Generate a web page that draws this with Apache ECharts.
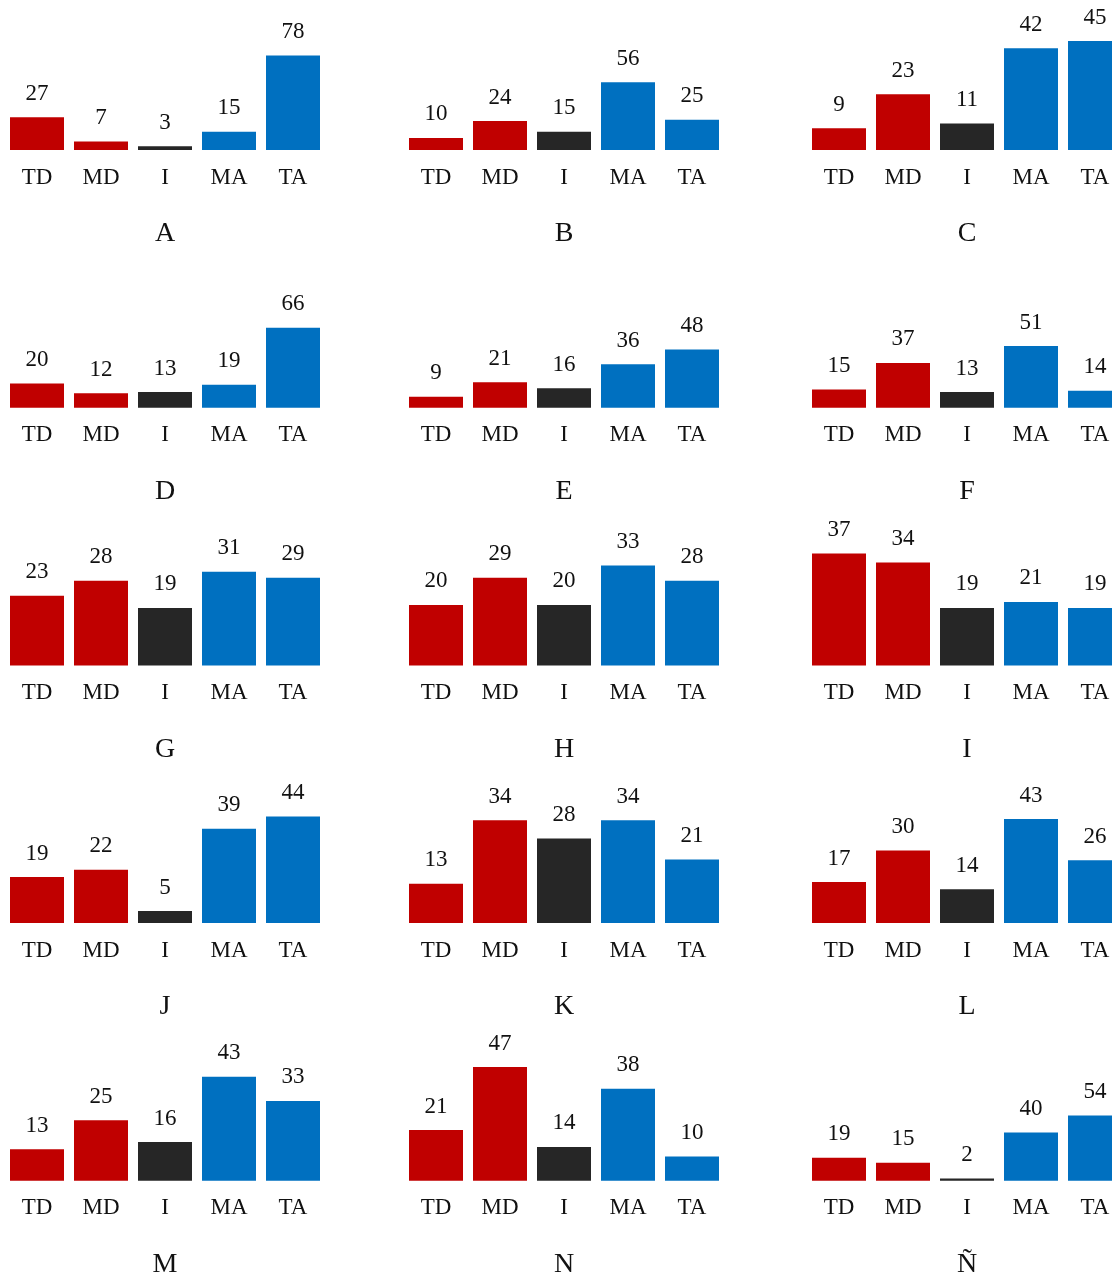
<!DOCTYPE html>
<html>
<head>
<meta charset="utf-8">
<title>TD / MD / I / MA / TA</title>
<script src="https://cdn.jsdelivr.net/npm/echarts@6/dist/echarts.min.js"></script>
<style>
  html, body { margin: 0; padding: 0; background: #ffffff; overflow: hidden; }
  /* the canvas runs a little past the right edge so the last column's TA bar is cut off */
  #chart { width: 1130px; height: 1273px; }
</style>
</head>
<body>
<div id="chart"></div>
<script>
// Response categories shared by every panel
const categories = ['TD', 'MD', 'I', 'MA', 'TA'];

// Panel letters, read row by row
const panelLetters = ['A', 'B', 'C', 'D', 'E', 'F', 'G', 'H', 'I', 'J', 'K', 'L', 'M', 'N', 'Ñ'];

// Counts per panel (TD, MD, I, MA, TA)
const panelA = [27, 7, 3, 15, 78];
const panelB = [10, 24, 15, 56, 25];
const panelC = [9, 23, 11, 42, 45];
const panelD = [20, 12, 13, 19, 66];
const panelE = [9, 21, 16, 36, 48];
const panelF = [15, 37, 13, 51, 14];
const panelG = [23, 28, 19, 31, 29];
const panelH = [20, 29, 20, 33, 28];
const panelI = [37, 34, 19, 21, 19];
const panelJ = [19, 22, 5, 39, 44];
const panelK = [13, 34, 28, 34, 21];
const panelL = [17, 30, 14, 43, 26];
const panelM = [13, 25, 16, 43, 33];
const panelN = [21, 47, 14, 38, 10];
const panelNtilde = [19, 15, 2, 40, 54];

const panelValues = [
  panelA, panelB, panelC, panelD, panelE, panelF, panelG, panelH,
  panelI, panelJ, panelK, panelL, panelM, panelN, panelNtilde
];

// Upper bound of each panel's value axis
const axisMax = [100, 100, 50, 100, 100, 100, 40, 40, 40, 50, 40, 50, 50, 50, 100];

// Bar colours by category: disagree (red), indifferent (dark), agree (blue)
const categoryColors = ['#C00000', '#C00000', '#262626', '#0070C0', '#0070C0'];

const FONT = '"Liberation Serif", "Times New Roman", "DejaVu Serif", serif';

// Layout of the 5 x 3 grid of small charts
const colLeft = [5, 404, 807];
const gridWidth = 320;
const plotHeight = 121;
const firstBaseline = 150;
const rowStep = 257.7;
const letterOffset = 84;

const grids = [], xAxes = [], yAxes = [], series = [], graphics = [];

panelValues.forEach((vals, i) => {
  const row = Math.floor(i / 3);
  const col = i % 3;
  const baseline = firstBaseline + row * rowStep;

  grids.push({
    left: colLeft[col],
    top: baseline - plotHeight,
    width: gridWidth,
    height: plotHeight,
    containLabel: false
  });

  xAxes.push({
    type: 'category',
    gridIndex: i,
    data: categories,
    axisLine: { show: false },
    axisTick: { show: false },
    splitLine: { show: false },
    axisLabel: {
      color: '#111111',
      fontFamily: FONT,
      fontSize: 23,
      margin: 16,
      interval: 0
    }
  });

  yAxes.push({
    type: 'value',
    gridIndex: i,
    min: 0,
    max: axisMax[i],
    show: false,
    splitLine: { show: false }
  });

  series.push({
    type: 'bar',
    xAxisIndex: i,
    yAxisIndex: i,
    barWidth: 54,
    animation: false,
    data: vals.map((v, k) => ({
      value: v,
      itemStyle: { color: categoryColors[k] }
    })),
    label: {
      show: true,
      position: 'top',
      distance: 12,
      color: '#111111',
      fontFamily: FONT,
      fontSize: 23
    }
  });

  graphics.push({
    type: 'text',
    x: colLeft[col] + gridWidth / 2,
    y: baseline + letterOffset,
    style: {
      text: panelLetters[i],
      fill: '#111111',
      font: '28px ' + FONT,
      textAlign: 'center',
      textVerticalAlign: 'middle'
    }
  });
});

const chart = echarts.init(document.getElementById('chart'), null, { renderer: 'canvas' });
chart.setOption({
  backgroundColor: '#ffffff',
  animation: false,
  grid: grids,
  xAxis: xAxes,
  yAxis: yAxes,
  series: series,
  graphic: graphics
});
</script>
</body>
</html>
